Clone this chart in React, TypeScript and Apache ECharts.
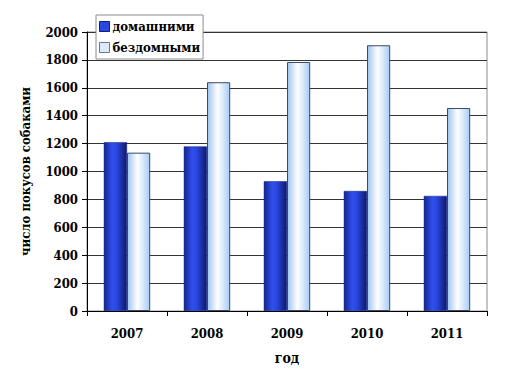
import React, { useEffect, useRef } from "react";
import * as echarts from "echarts";

const years = ["2007", "2008", "2009", "2010", "2011"];
const domestic = [1210, 1180, 930, 860, 825];
const stray = [1135, 1640, 1785, 1905, 1455];
const seriesNames = ["домашними", "бездомными"];
const yTitle = "число покусов собаками";
const xTitle = "год";

const FONT = "DejaVu Serif Condensed";

export default function App() {
  const ref = useRef<HTMLDivElement>(null);
  useEffect(() => {
    if (!ref.current) return;
    const chart = echarts.init(ref.current, null, { renderer: "svg" });
    const darkGrad = new echarts.graphic.LinearGradient(0, 0, 1, 0, [
      { offset: 0, color: "#14238c" },
      { offset: 0.35, color: "#2f4fee" },
      { offset: 0.55, color: "#2a48e0" },
      { offset: 1, color: "#0e1870" },
    ]);
    const lightGrad = new echarts.graphic.LinearGradient(0, 0, 1, 0, [
      { offset: 0, color: "#9cc4f0" },
      { offset: 0.45, color: "#ffffff" },
      { offset: 1, color: "#a8cdf6" },
    ]);
    chart.setOption({
      animation: false,
      backgroundColor: "#ffffff",
      textStyle: { fontFamily: FONT },
      grid: {
        left: 87,
        right: 26,
        top: 32,
        bottom: 74,
        show: true,
        borderColor: "#8c8c8c",
        borderWidth: 1,
      },
      legend: {
        left: 96,
        top: 15,
        orient: "vertical",
        itemWidth: 10,
        itemHeight: 10,
        itemGap: 8,
        padding: [5, 3, 5, 3],
        borderColor: "#8c8c8c",
        borderWidth: 1,
        backgroundColor: "#ffffff",
        textStyle: { fontFamily: FONT, fontWeight: "bold", fontSize: 13, color: "#000", padding: [0, 0, 0, -2] },
        data: [
          { name: seriesNames[0], icon: "rect", itemStyle: { color: "#2a48e0", borderColor: "#10207a", borderWidth: 1 } },
          { name: seriesNames[1], icon: "rect", itemStyle: { color: "#dceafb", borderColor: "#5a7aa8", borderWidth: 1 } },
        ],
      },
      xAxis: {
        type: "category",
        data: years,
        name: xTitle,
        nameLocation: "middle",
        nameGap: 40,
        nameTextStyle: { fontFamily: FONT, fontWeight: "bold", fontSize: 14, color: "#000" },
        axisLine: { lineStyle: { color: "#000", width: 1 } },
        axisTick: { show: true, length: 5, lineStyle: { color: "#000" } },
        axisLabel: { fontFamily: FONT, fontWeight: "bold", fontSize: 13, color: "#000", margin: 16 },
      },
      yAxis: {
        type: "value",
        min: 0,
        max: 2000,
        interval: 200,
        name: yTitle,
        nameLocation: "middle",
        nameGap: 55,
        nameRotate: 90,
        nameTextStyle: { fontFamily: FONT, fontWeight: "bold", fontSize: 13, color: "#000" },
        axisLine: { show: true, lineStyle: { color: "#000", width: 1 } },
        axisTick: { show: true, length: 5, lineStyle: { color: "#000" } },
        axisLabel: {
          fontFamily: FONT,
          fontWeight: "bold",
          fontSize: 13,
          color: "#000",
          margin: 9,
          formatter: (v: number) => String(v),
        },
        splitLine: { show: true, lineStyle: { color: "#333", width: 1 } },
      },
      series: [
        {
          name: seriesNames[0],
          type: "bar",
          data: domestic,
          barGap: "0%",
          barCategoryGap: "42%",
          itemStyle: { color: darkGrad, borderColor: "#10207a", borderWidth: 0.5 },
        },
        {
          name: seriesNames[1],
          type: "bar",
          data: stray,
          itemStyle: { color: lightGrad, borderColor: "#3a4a66", borderWidth: 1 },
        },
      ],
    });
    return () => chart.dispose();
  }, []);
  return <div ref={ref} style={{ width: 513, height: 385, position: "absolute", left: 0, top: 0 }} />;
}
